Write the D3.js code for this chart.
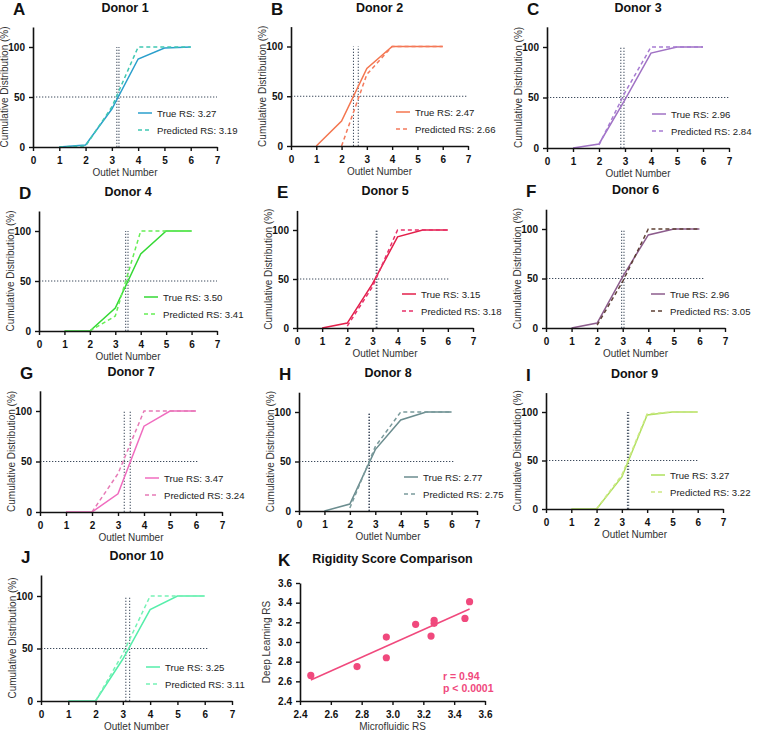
<!DOCTYPE html>
<html><head><meta charset="utf-8">
<script src="https://cdn.jsdelivr.net/npm/d3@7"></script>
<style>
body{margin:0;background:#fff;}
svg{font-family:"Liberation Sans",Arial,sans-serif;}
</style></head>
<body><svg id="c" width="757" height="732"></svg>
<script>
// ---------- DATA ----------
const outlets = [1, 2, 3, 4, 5, 6];
const donors = ["Donor 1","Donor 2","Donor 3","Donor 4","Donor 5","Donor 6","Donor 7","Donor 8","Donor 9","Donor 10"];
const panelLetters = ["A","B","C","D","E","F","G","H","I","J","K"];
const trueRS = [3.27, 2.47, 2.96, 3.50, 3.15, 2.96, 3.47, 2.77, 3.27, 3.25];
const predRS = [3.19, 2.66, 2.84, 3.41, 3.18, 3.05, 3.24, 2.75, 3.22, 3.11];
const trueCurves = [
  [0, 2, 38, 88, 99, 100],
  [0, 25, 78, 100, 100, 100],
  [0, 4, 48, 94, 100, 100],
  [0, 0, 23, 77, 100, 100],
  [0, 5, 45, 93, 100, 100],
  [0, 5, 52, 94, 100, 100],
  [0, 0, 18, 85, 100, 100],
  [0, 7, 62, 92, 100, 100],
  [0, 0, 33, 97, 100, 100],
  [0, 0, 40, 87, 100, 100]
];
const predCurves = [
  [0, 1, 40, 100, 100, 100],
  [null, 0, 72, 100, 100, 100],
  [null, 3, 55, 100, 100, 100],
  [null, 0, 15, 100, 100, 100],
  [null, 2, 42, 100, 100, 100],
  [null, 3, 47, 100, 100, 100],
  [null, 0, 38, 100, 100, 100],
  [null, 3, 65, 100, 100, 100],
  [null, 0, 35, 98, 100, 100],
  [null, 0, 45, 100, 100, 100]
];
const halfLineEnd = [7, 7, 7, 7, 6.05, 6.2, 6.1, 6.1, 6.0, 6.1];
const xTicks = [0, 1, 2, 3, 4, 5, 6, 7];
const yTicks = [0, 50, 100];
// Panel K: microfluidic RS vs deep-learning RS (as plotted)
const scatterX = [3.27, 2.47, 2.96, 3.50, 3.15, 2.96, 3.47, 2.77, 3.27, 3.25];
const scatterY = [3.19, 2.66, 2.84, 3.41, 3.18, 3.05, 3.24, 2.75, 3.22, 3.06];
const kTicks = [2.4, 2.6, 2.8, 3.0, 3.2, 3.4, 3.6];
const kStats = ["r = 0.94", "p < 0.0001"];

// ---------- STYLE ----------
const trueColors = ["#2a9fcc","#f4764f","#a072c4","#35d935","#e31f4a","#8c5c8c","#f06cbf","#6b8d8f","#aee05c","#55eeaa"];
const predColors = ["#40c8b2","#f47a5c","#a77bd2","#66ee55","#e8306a","#5e4035","#e67ab6","#7a9a9c","#cde884","#77f2b6"];
const kColor = "#f0497d";
const refColor = "#3d4a5c";

// panel geometry: left (x=0), right (x=7), bottom (y=0), y of 100
const geo = [
  {l:33, r:217, b:147, t:47},
  {l:291, r:468, b:146, t:46.5},
  {l:547, r:729, b:148, t:47},
  {l:39, r:217, b:331, t:231},
  {l:297, r:473, b:328, t:230},
  {l:546, r:725, b:328, t:229},
  {l:40, r:222, b:512, t:411},
  {l:299, r:477, b:511, t:412},
  {l:546, r:723, b:509, t:412},
  {l:41, r:232, b:701, t:596}
];
const geoK = {l:300, r:485, b:701, t:583};

const svg = d3.select("#c");

function axes(g, x, y, xt, yt, fmtX, fmtY) {
  const xa = g.append("g").attr("transform", `translate(0,${y.range()[0]})`)
    .call(d3.axisBottom(x).tickValues(xt).tickSize(4).tickSizeOuter(0).tickFormat(fmtX));
  const ya = g.append("g").attr("transform", `translate(${x.range()[0]},0)`)
    .call(d3.axisLeft(y).tickValues(yt).tickSize(4).tickSizeOuter(0).tickFormat(fmtY));
  [xa, ya].forEach(a => {
    a.select(".domain").attr("stroke", "#111").attr("stroke-width", 1.6);
    a.selectAll(".tick line").attr("stroke", "#111").attr("stroke-width", 1.4);
    a.selectAll(".tick text").attr("fill", "#111").attr("font-weight", "bold")
      .attr("font-size", 10).attr("font-family", "Liberation Sans, Arial, sans-serif");
  });
  xa.selectAll(".tick text").attr("dy", "0.95em");
  ya.selectAll(".tick text").attr("dx", "-1px");
}

donors.forEach((name, i) => {
  const G = geo[i];
  const x = d3.scaleLinear().domain([0, 7]).range([G.l, G.r]);
  const y = d3.scaleLinear().domain([0, 100]).range([G.b, G.t]);
  const yTop = y(120);
  const g = svg.append("g");

  // reference lines
  g.append("line").attr("x1", x(0)).attr("x2", x(halfLineEnd[i]))
    .attr("y1", y(50)).attr("y2", y(50))
    .attr("stroke", refColor).attr("stroke-width", 1).attr("stroke-dasharray", "1.3,1.7");
  [trueRS[i], predRS[i]].forEach(v => {
    g.append("line").attr("x1", x(v)).attr("x2", x(v)).attr("y1", y(0)).attr("y2", y(100))
      .attr("stroke", refColor).attr("stroke-width", 1).attr("stroke-dasharray", "1.3,1.7");
  });

  const line = d3.line().defined(d => d[1] !== null).x(d => x(d[0])).y(d => y(d[1]));
  g.append("path").datum(outlets.map((o, k) => [o, trueCurves[i][k]]))
    .attr("d", line).attr("fill", "none").attr("stroke", trueColors[i]).attr("stroke-width", 1.5);
  g.append("path").datum(outlets.map((o, k) => [o, predCurves[i][k]]))
    .attr("d", line).attr("fill", "none").attr("stroke", predColors[i]).attr("stroke-width", 1.5)
    .attr("stroke-dasharray", "4,3");

  // axes
  const yFull = d3.scaleLinear().domain([0, 120]).range([G.b, yTop]);
  axes(g, x, yFull, xTicks, yTicks, d3.format("d"), d3.format("d"));

  // legend
  const lx = G.l + 105;
  [[trueRS[i], trueColors[i], null, "True RS: "], [predRS[i], predColors[i], "4,3", "Predicted RS: "]].forEach((e, k) => {
    const ly = G.b - 34 + k * 17;
    g.append("line").attr("x1", lx).attr("x2", lx + 14).attr("y1", ly).attr("y2", ly)
      .attr("stroke", e[1]).attr("stroke-width", 1.5).attr("stroke-dasharray", e[2]);
    g.append("text").attr("x", lx + 19).attr("y", ly + 3.5).attr("font-size", 9.6)
      .attr("fill", "#222").text(e[3] + e[0].toFixed(2));
  });

  // titles
  g.append("text").attr("x", (G.l + G.r) / 2).attr("y", yTop - 15).attr("text-anchor", "middle")
    .attr("font-weight", "bold").attr("font-size", 12.5).attr("fill", "#111").text(name);
  g.append("text").attr("x", G.l - 20).attr("y", yTop - 12).attr("font-weight", "bold")
    .attr("font-size", 17).attr("fill", "#111").text(panelLetters[i]);
  g.append("text").attr("x", (G.l + G.r) / 2).attr("y", G.b + 29).attr("text-anchor", "middle")
    .attr("font-size", 10).attr("fill", "#333").text("Outlet Number");
  g.append("text").attr("transform", `translate(${G.l - 25},${(G.b + yTop) / 2}) rotate(-90)`)
    .attr("text-anchor", "middle").attr("font-size", 10).attr("fill", "#333")
    .text("Cumulative Distribution (%)");
});

// ---------- Panel K ----------
{
  const G = geoK;
  const x = d3.scaleLinear().domain([2.4, 3.6]).range([G.l, G.r]);
  const y = d3.scaleLinear().domain([2.4, 3.6]).range([G.b, G.t]);
  const g = svg.append("g");
  const mx = d3.mean(scatterX), my = d3.mean(scatterY);
  const slope = d3.sum(scatterX, (v, k) => (v - mx) * (scatterY[k] - my)) / d3.sum(scatterX, v => (v - mx) ** 2);
  const ic = my - slope * mx;
  const [x0, x1] = d3.extent(scatterX);
  g.append("line").attr("x1", x(x0)).attr("x2", x(x1)).attr("y1", y(ic + slope * x0)).attr("y2", y(ic + slope * x1))
    .attr("stroke", kColor).attr("stroke-width", 1.5);
  g.selectAll("circle").data(scatterX).join("circle")
    .attr("cx", d => x(d)).attr("cy", (d, k) => y(scatterY[k])).attr("r", 3.6).attr("fill", kColor);
  axes(g, x, y, kTicks, kTicks, d3.format(".1f"), d3.format(".1f"));
  kStats.forEach((s, k) => {
    g.append("text").attr("x", 443).attr("y", 680 + k * 12).attr("font-weight", "bold")
      .attr("font-size", 10.5).attr("fill", kColor).text(s);
  });
  g.append("text").attr("x", (G.l + G.r) / 2).attr("y", G.t - 20).attr("text-anchor", "middle")
    .attr("font-weight", "bold").attr("font-size", 12.5).attr("fill", "#111").text("Rigidity Score Comparison");
  g.append("text").attr("x", G.l - 22).attr("y", G.t - 17).attr("font-weight", "bold")
    .attr("font-size", 17).attr("fill", "#111").text(panelLetters[10]);
  g.append("text").attr("x", (G.l + G.r) / 2).attr("y", G.b + 29).attr("text-anchor", "middle")
    .attr("font-size", 10).attr("fill", "#333").text("Microfluidic RS");
  g.append("text").attr("transform", `translate(${G.l - 30},${(G.b + G.t) / 2}) rotate(-90)`)
    .attr("text-anchor", "middle").attr("font-size", 10).attr("fill", "#333").text("Deep Learning RS");
}
</script></body></html>
